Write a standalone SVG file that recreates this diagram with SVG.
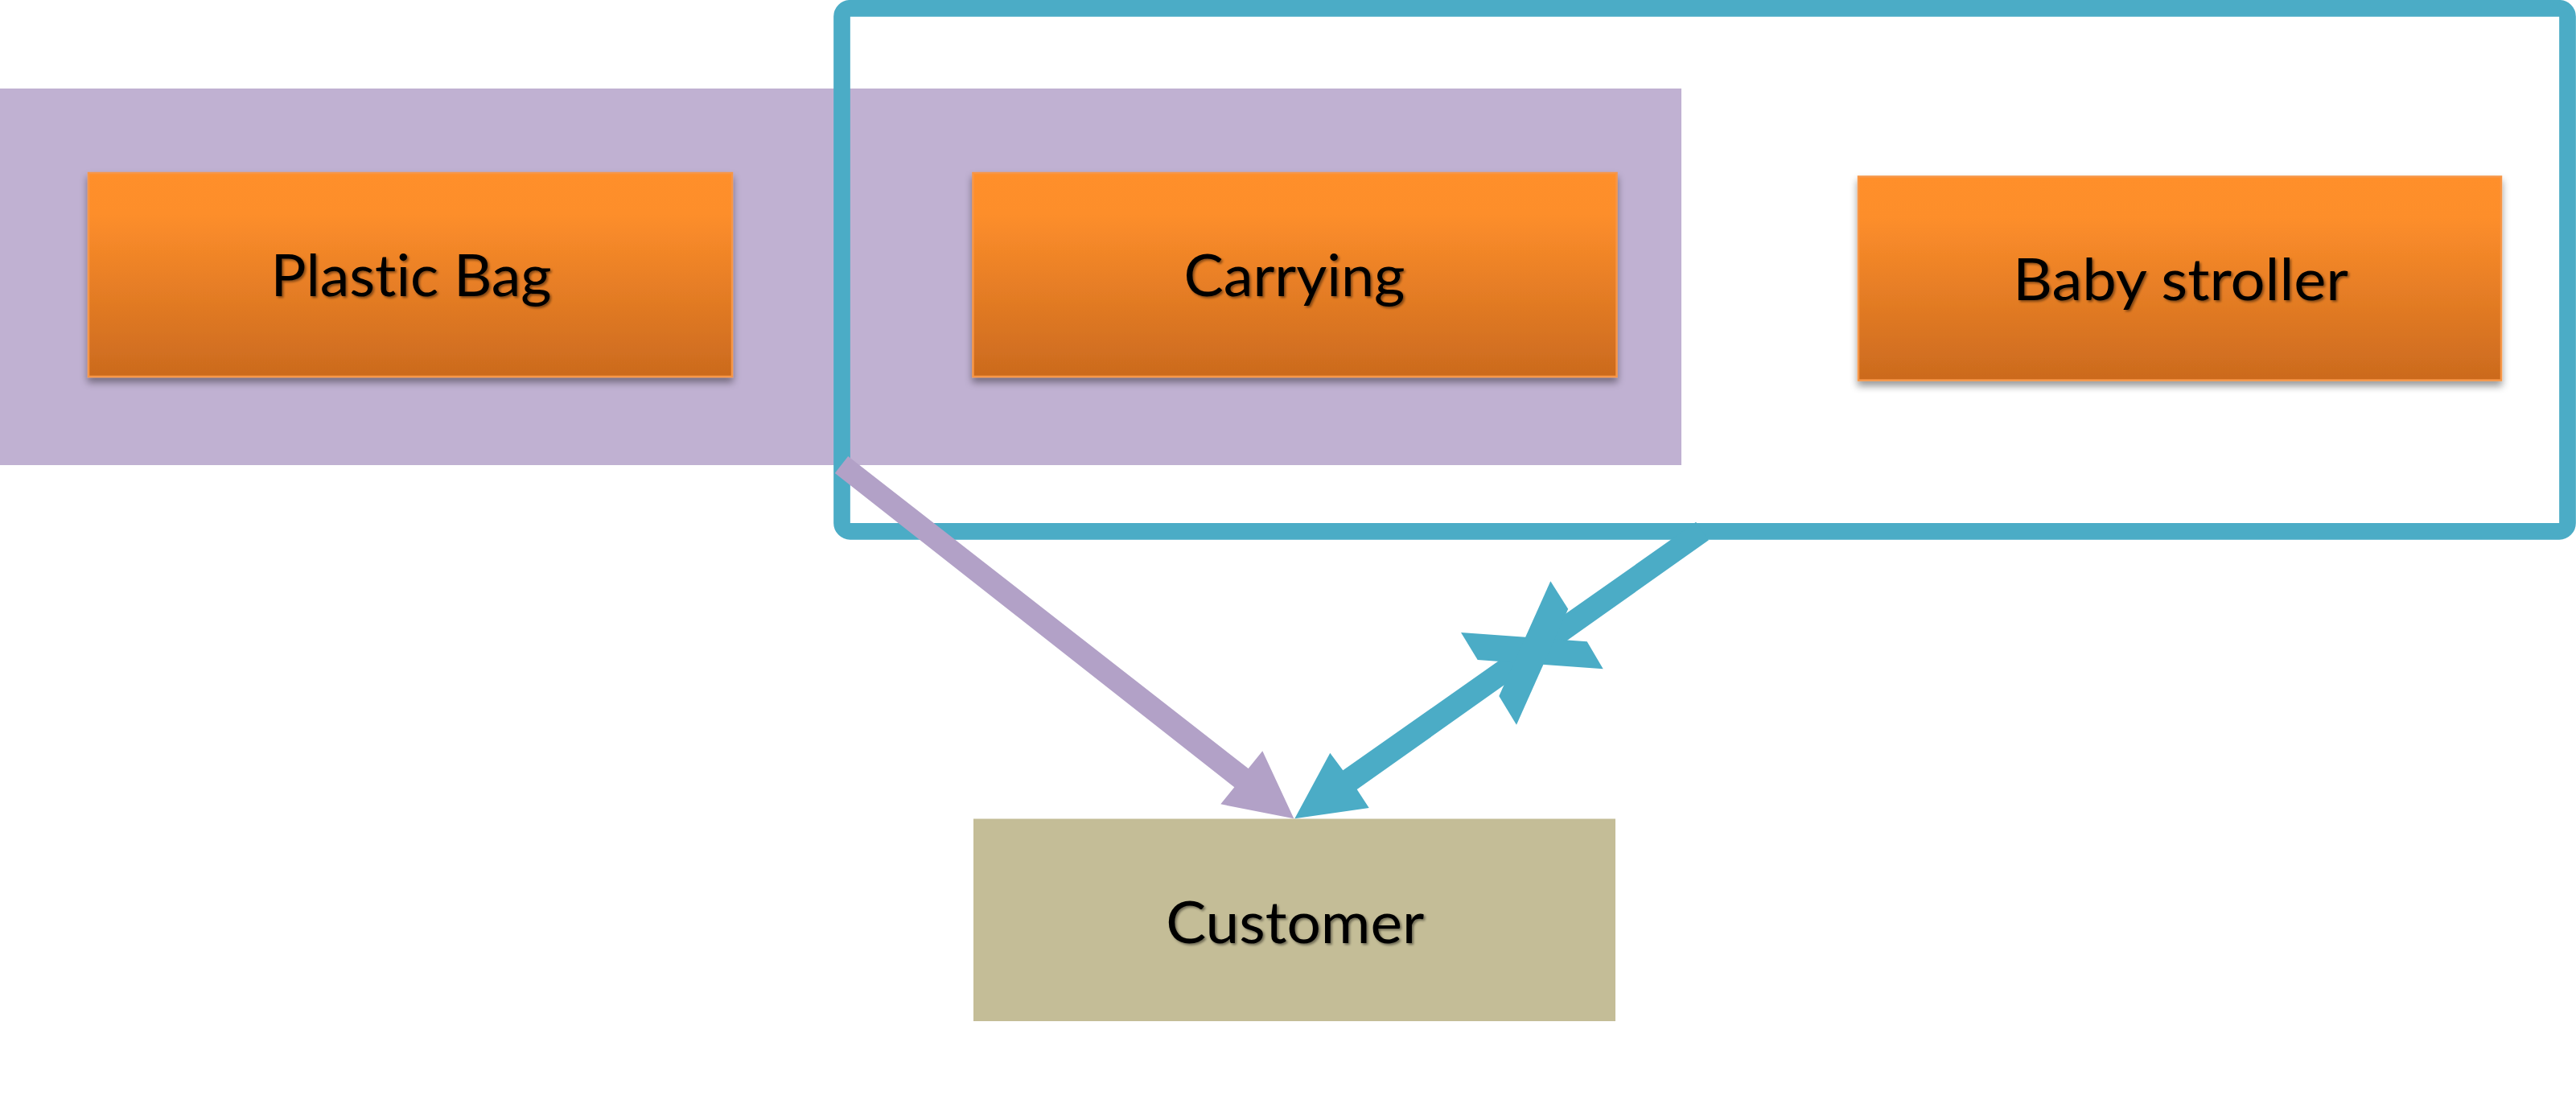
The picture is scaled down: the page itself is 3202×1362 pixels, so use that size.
<svg xmlns="http://www.w3.org/2000/svg" width="3202" height="1362" viewBox="0 0 3202 1362">
  <defs>
    <linearGradient id="orangeGrad" x1="0" y1="0" x2="0" y2="1">
      <stop offset="0" stop-color="#FF8F2C"/>
      <stop offset="0.2" stop-color="#FD8E2B"/>
      <stop offset="1" stop-color="#CB6A1E"/>
    </linearGradient>
    <filter id="boxShadow" x="-5%" y="-10%" width="110%" height="130%">
      <feDropShadow dx="0" dy="6" stdDeviation="5" flood-color="#000" flood-opacity="0.4"/>
    </filter>
    <filter id="textShadow" x="-5%" y="-20%" width="110%" height="140%">
      <feDropShadow dx="2" dy="2" stdDeviation="1.5" flood-color="#000" flood-opacity="0.45"/>
    </filter>
  </defs>
  <style>
    .orange { fill: url(#orangeGrad); stroke: #F79646; stroke-width: 2.5; filter: url(#boxShadow); }
    .label { font-family: Lato, "Open Sans", "Liberation Sans", sans-serif; font-size: 72.5px; fill: #000; text-anchor: middle; filter: url(#textShadow); font-variant-ligatures: none; font-feature-settings: "liga" 0, "clig" 0; }
    .band { fill: #C0B1D2; }
    .frame { fill: none; stroke: #4BACC6; stroke-width: 20.7; }
    .teal { fill: #4BACC6; }
    .purple { fill: #B2A1C7; }
    .customer { fill: #C4BD97; }
  </style>
  <rect width="3202" height="1362" fill="#FFFFFF"/>

  <g id="group-band">
    <rect class="band" x="0" y="110" width="2090" height="468"/>
  </g>

  <g id="group-frame">
    <rect class="frame" x="1046.5" y="10.3" width="2145" height="650" rx="10.3" ry="10.3"/>
  </g>

  <g id="node-plastic-bag">
    <rect class="orange" x="110" y="215" width="800" height="253"/>
    <text class="label" x="511" y="368" textLength="349" lengthAdjust="spacingAndGlyphs">Plastic Bag</text>
  </g>

  <g id="node-carrying">
    <rect class="orange" x="1209.5" y="215" width="800" height="253"/>
    <text class="label" x="1609" y="368.3" textLength="275" lengthAdjust="spacingAndGlyphs">Carrying</text>
  </g>

  <g id="node-baby-stroller">
    <rect class="orange" x="2310" y="219.5" width="799" height="253"/>
    <text class="label" x="2710.5" y="373" textLength="417" lengthAdjust="spacingAndGlyphs">Baby stroller</text>
  </g>

  <g id="node-customer">
    <rect class="customer" x="1210" y="1017.5" width="798" height="251.5"/>
    <text class="label" x="1609.7" y="1171.7" textLength="321" lengthAdjust="spacingAndGlyphs">Customer</text>
  </g>

  <g id="connectors">
    <polygon class="purple" points="1054.2,567 1551.7,955 1569.3,933.3 1608.3,1017.3 1517.3,999.3 1534.3,978.3 1037.8,588"/>
    <polygon class="teal" points="2108.1,648.8 1669.3,957.3 1653.3,935.7 1609.3,1017.3 1701.7,1004 1686.7,981 2123.9,671.2"/>
    <polygon class="teal" points="1816,786 1972.7,797.3 1992.7,831.3 1836.7,820"/>
    <polygon class="teal" points="1927.3,722.3 1949.2,756.7 1885,900.7 1863.3,865"/>
  </g>
</svg>
